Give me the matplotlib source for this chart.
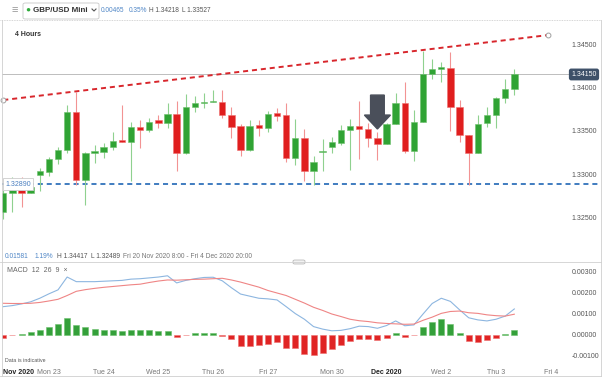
import numpy as np
import matplotlib
matplotlib.use('Agg')
import matplotlib.pyplot as plt
import matplotlib.transforms as mtransforms
from matplotlib.lines import Line2D
from matplotlib.patches import FancyBboxPatch

plt.rcParams['font.family'] = ['Liberation Sans', 'DejaVu Sans']

# ===================================================
# Data: GBP/USD 4h candles, Fri 20 Nov 8:00 -> Thu 3 Dec
# ===================================================
opens = [1.32568, 1.32787, 1.32821, 1.32787, 1.32994, 1.33028, 1.33178, 1.33281, 1.33718, 1.32936,
         1.33247, 1.33258, 1.33316, 1.33396, 1.33373, 1.33546, 1.33511, 1.33626, 1.33592, 1.33695,
         1.33247, 1.33776, 1.33822, 1.33833, 1.33833, 1.33684, 1.33557, 1.33281, 1.33569, 1.33534,
         1.33707, 1.33684, 1.33189, 1.33419, 1.33040, 1.33258, 1.33316, 1.33362, 1.33511, 1.33557,
         1.33523, 1.33419, 1.33350, 1.33580, 1.33822, 1.33270, 1.33603, 1.34155, 1.34213, 1.34224,
         1.33776, 1.33454, 1.33247, 1.33592, 1.33684, 1.33879, 1.33983]
highs = [1.32821, 1.32971, 1.32971, 1.32867, 1.33074, 1.33201, 1.33316, 1.33799, 1.33948, 1.33258,
         1.33339, 1.33362, 1.33488, 1.33799, 1.33603, 1.33626, 1.33649, 1.33684, 1.33822, 1.33845,
         1.33925, 1.33902, 1.33937, 1.33971, 1.33971, 1.33776, 1.33580, 1.33626, 1.33626, 1.33730,
         1.33764, 1.33822, 1.33638, 1.33523, 1.33212, 1.33408, 1.33430, 1.33569, 1.33638, 1.33845,
         1.33592, 1.33488, 1.33592, 1.33937, 1.34063, 1.33741, 1.34417, 1.34328, 1.34293, 1.34408,
         1.33856, 1.33454, 1.33684, 1.33776, 1.33891, 1.34098, 1.34213]
lows = [1.32489, 1.32568, 1.32626, 1.32787, 1.32810, 1.32982, 1.33120, 1.33247, 1.32879, 1.32649,
        1.33132, 1.33189, 1.33281, 1.33373, 1.32925, 1.33304, 1.33488, 1.33534, 1.33534, 1.33040,
        1.33235, 1.33718, 1.33764, 1.33833, 1.33649, 1.33419, 1.33212, 1.33270, 1.33442, 1.33488,
        1.33615, 1.33143, 1.33108, 1.32925, 1.32879, 1.33040, 1.33247, 1.33339, 1.33051, 1.33178,
        1.33316, 1.33166, 1.33350, 1.33580, 1.33247, 1.33155, 1.33603, 1.34098, 1.34063, 1.33500,
        1.33373, 1.32879, 1.33247, 1.33546, 1.33534, 1.33822, 1.33914]
closes = [1.32787, 1.32821, 1.32787, 1.32856, 1.33040, 1.33178, 1.33281, 1.33718, 1.32936, 1.33247,
          1.33270, 1.33316, 1.33385, 1.33373, 1.33546, 1.33511, 1.33603, 1.33592, 1.33695, 1.33247,
          1.33776, 1.33822, 1.33833, 1.33845, 1.33684, 1.33546, 1.33281, 1.33557, 1.33534, 1.33695,
          1.33672, 1.33189, 1.33419, 1.33040, 1.33143, 1.33270, 1.33373, 1.33511, 1.33557, 1.33523,
          1.33419, 1.33350, 1.33580, 1.33822, 1.33270, 1.33603, 1.34155, 1.34213, 1.34236, 1.33776,
          1.33454, 1.33247, 1.33580, 1.33684, 1.33879, 1.33983, 1.34150]

# MACD(12, 26, 9)
macd_line = [0.00135, 0.00140, 0.00148, 0.00158, 0.00175, 0.00196, 0.00215, 0.00276, 0.00254, 0.00254,
             0.00254, 0.00256, 0.00258, 0.00260, 0.00266, 0.00268, 0.00272, 0.00276, 0.00282, 0.00248,
             0.00260, 0.00268, 0.00274, 0.00275, 0.00258, 0.00225, 0.00195, 0.00185, 0.00175, 0.00172,
             0.00167, 0.00135, 0.00102, 0.00075, 0.00040, 0.00028, 0.00020, 0.00022, 0.00030, 0.00042,
             0.00040, 0.00032, 0.00045, 0.00067, 0.00044, 0.00048, 0.00100, 0.00150, 0.00175, 0.00160,
             0.00120, 0.00082, 0.00072, 0.00067, 0.00075, 0.00090, 0.00124]
signal_line = [0.00151, 0.00150, 0.00150, 0.00151, 0.00155, 0.00162, 0.00170, 0.00188, 0.00208, 0.00216,
               0.00222, 0.00227, 0.00231, 0.00235, 0.00239, 0.00242, 0.00250, 0.00257, 0.00262, 0.00261,
               0.00263, 0.00265, 0.00266, 0.00268, 0.00270, 0.00262, 0.00252, 0.00240, 0.00228, 0.00212,
               0.00200, 0.00188, 0.00170, 0.00152, 0.00132, 0.00117, 0.00100, 0.00088, 0.00075, 0.00068,
               0.00064, 0.00058, 0.00055, 0.00053, 0.00051, 0.00052, 0.00070, 0.00085, 0.00103, 0.00112,
               0.00114, 0.00106, 0.00103, 0.00096, 0.00092, 0.00090, 0.00099]
histogram = [-0.00013, -0.00002, 0.00005, 0.00013, 0.00022, 0.00038, 0.00051, 0.00083, 0.00046, 0.00038,
             0.00029, 0.00025, 0.00022, 0.00019, 0.00024, 0.00022, 0.00022, 0.00019, 0.00021, -0.00010,
             -0.00002, 0.00010, 0.00010, 0.00008, -0.00004, -0.00019, -0.00051, -0.00051, -0.00048, -0.00041,
             -0.00035, -0.00063, -0.00063, -0.00092, -0.00097, -0.00084, -0.00068, -0.00049, -0.00030, -0.00021,
             -0.00021, -0.00024, -0.00013, 0.00011, -0.00010, -0.00002, 0.00038, 0.00062, 0.00075, 0.00051,
             0.00011, -0.00029, -0.00033, -0.00025, -0.00013, 0.00006, 0.00024]

# trend line (start / end) and support level
trend_x = [0, 59.7]
trend_y = [1.33856, 1.34603]
support = 1.32890

price_ticks = [1.325, 1.330, 1.335, 1.340, 1.345]
macd_ticks = [-0.001, 0.0, 0.001, 0.002, 0.003]
xtick_pos = [1.7, 5, 11, 17, 23, 29, 36, 42, 48, 54, 60]
xtick_lbl = ['Nov 2020', 'Mon 23', 'Tue 24', 'Wed 25', 'Thu 26', 'Fri 27',
             'Mon 30', 'Dec 2020', 'Wed 2', 'Thu 3', 'Fri 4']

# ===================================================
# Figure layout (pixel based)
# ===================================================
W, H = 602, 377
fig = plt.figure(figsize=(W / 100, H / 100), dpi=100)
fig.patch.set_facecolor('white')


def px_rect(x0, y0, x1, y1):
    return [x0 / W, 1 - y1 / H, (x1 - x0) / W, (y1 - y0) / H]


def fx(x):
    return x / W


def fy(y):
    return 1 - y / H


XLIM = (-0.14, 65.5)
GREEN, GREEN_W = '#30a334', '#8fd18f'
RED, RED_W = '#e01e1e', '#f29393'

o = np.array(opens)
h = np.array(highs)
l = np.array(lows)
c = np.array(closes)
idx = np.arange(len(c))
up = c >= o

# ===================================================
# Price panel
# ===================================================
ax = fig.add_axes(px_rect(2, 21, 601, 250))
ax.set_xlim(*XLIM)
ax.set_ylim(1.32131, 1.34765)
for s in ax.spines.values():
    s.set_visible(False)
ax.set_xticks([])
ax.yaxis.tick_right()
ax.set_yticks(price_ticks)
ax.set_yticklabels(['%.5f' % v for v in price_ticks])
ax.tick_params(axis='y', length=0, pad=-21, labelsize=5, labelcolor='#555555')

ax.vlines(idx, l, h, colors=np.where(up, GREEN_W, RED_W), lw=0.8, zorder=2)
ax.bar(idx, np.maximum(np.abs(c - o), 0.00003), bottom=np.minimum(o, c), width=0.7,
       color=np.where(up, GREEN, RED), edgecolor=np.where(up, '#6cc06c', '#ee7070'),
       linewidth=0.4, zorder=3)

# current price line + label
ax.axhline(c[-1], xmin=0, xmax=(568 - 2) / 599, color='#bdbdbd', lw=0.7, zorder=1)
blend = mtransforms.blended_transform_factory(ax.transAxes, ax.transData)
ax.text((584 - 2) / 599, c[-1], '%.5f' % c[-1], transform=blend, ha='center', va='center',
        fontsize=5, color='white',
        bbox=dict(boxstyle='round,pad=0.25', fc='#3d5068', ec='#3d5068'))

# support line + label
ax.axhline(support, color='#3f7cc0', lw=1.4, dashes=(2.6, 2), zorder=1)
ax.text((18 - 2) / 599, support, '%.5f' % support, transform=blend, ha='center', va='center',
        fontsize=5, color='#4a7fc0',
        bbox=dict(boxstyle='square,pad=0.35', fc='white', ec='#cccccc', lw=0.6), zorder=5)

# trend line
ax.plot(trend_x, trend_y, color='#d8262c', lw=1.4, dashes=(2.6, 2), zorder=4)
ax.plot(trend_x, trend_y, 'o', mfc='white', mec='#a0a0a0', ms=3.5, mew=0.7,
        clip_on=False, zorder=5)

# arrow over the candle
tip = h[41] + 0.00035
ax.arrow(41, tip + 0.0039, 0, -0.0039, width=1.5, head_width=2.85, head_length=0.0016,
         length_includes_head=True, color='#4a4f5a', zorder=6)

# ===================================================
# MACD panel
# ===================================================
ax2 = fig.add_axes(px_rect(2, 262, 601, 362))
ax2.set_xlim(*XLIM)
ax2.set_ylim(-0.001286, 0.003476)
for s in ax2.spines.values():
    s.set_visible(False)
ax2.yaxis.tick_right()
ax2.set_yticks(macd_ticks)
ax2.set_yticklabels(['%.5f' % v for v in macd_ticks])
ax2.tick_params(axis='y', length=0, pad=-21, labelsize=5, labelcolor='#555555')
ax2.set_xticks(xtick_pos)
ax2.set_xticklabels(xtick_lbl)
ax2.tick_params(axis='x', length=0, pad=5, labelsize=5, labelcolor='#777777')
for t in ax2.get_xticklabels():
    if '2020' in t.get_text():
        t.set_color('#222222')
        t.set_fontweight('bold')

hv = np.array(histogram)
ax2.bar(idx, hv, width=0.66, color=np.where(hv >= 0, '#34a03a', '#e02424'),
        edgecolor=np.where(hv >= 0, '#6cc06c', '#ee7070'), linewidth=0.4)
ax2.plot(idx, macd_line, color='#8db6e0', lw=0.8)
ax2.plot(idx, signal_line, color='#ef8585', lw=0.8)

# ===================================================
# Header, info row and frame
# ===================================================
fig.text(fx(12), fy(10), '\u2261', fontsize=8, color='#9a9a9a', va='center')
fig.patches.append(FancyBboxPatch((fx(23), fy(19)), fx(76), 16 / H, boxstyle='round,pad=0,rounding_size=0.004',
                                  transform=fig.transFigure, fc='white', ec='#c8c8c8', lw=0.6))
fig.text(fx(25), fy(10), '\u25cf', fontsize=6, color='#2eaa3a', va='center')
fig.text(fx(33), fy(10), 'GBP/USD Mini', fontsize=5.8, fontweight='bold', color='#333333', va='center')
fig.add_artist(Line2D([fx(92), fx(94), fx(96)], [fy(9), fy(11), fy(9)], color='#555555', lw=0.8))
fig.text(fx(101), fy(10), '0.00465', fontsize=4.7, color='#4f86c6', va='center')
fig.text(fx(129), fy(10), '0.35%', fontsize=4.7, color='#4f86c6', va='center')
fig.text(fx(149), fy(10), 'H 1.34218', fontsize=4.7, color='#555555', va='center')
fig.text(fx(182), fy(10), 'L 1.33527', fontsize=4.7, color='#555555', va='center')
fig.text(fx(15), fy(34), '4 Hours', fontsize=5, color='#333333', va='center', fontweight='bold')

fig.text(fx(5), fy(256), '0.01581', fontsize=4.8, color='#4f86c6', va='center')
fig.text(fx(35), fy(256), '1.19%', fontsize=4.8, color='#4f86c6', va='center')
fig.text(fx(57), fy(256), 'H 1.34417', fontsize=4.8, color='#555555', va='center')
fig.text(fx(91), fy(256), 'L 1.32489', fontsize=4.8, color='#555555', va='center')
fig.text(fx(123), fy(256), 'Fri 20 Nov 2020 8:00 - Fri 4 Dec 2020 20:00', fontsize=4.8,
         color='#777777', va='center')

fig.text(fx(7), fy(270), 'MACD  12  26  9  \u00d7', fontsize=5, color='#666666', va='center')
fig.text(fx(5), fy(361), 'Data is indicative', fontsize=3.8, color='#555555', va='center')

fig.add_artist(Line2D([0, 1], [fy(19.5), fy(19.5)], color='#c8c8c8', lw=0.6, ls=(0, (1, 1))))
fig.add_artist(Line2D([0, 1], [fy(262), fy(262)], color='#d0d0d0', lw=0.6))
fig.patches.append(FancyBboxPatch((fx(293), fy(264)), fx(12), 4 / H, boxstyle='round,pad=0,rounding_size=0.003',
                                  transform=fig.transFigure, fc='#f2f2f2', ec='#b0b0b0', lw=0.5))
fig.add_artist(Line2D([fx(1.5), fx(1.5)], [0, fy(20)], color='#cfcfcf', lw=0.6))
fig.add_artist(Line2D([fx(600.5), fx(600.5)], [0, fy(20)], color='#cfcfcf', lw=0.6))
fig.add_artist(Line2D([0, 1], [fy(376), fy(376)], color='#cfcfcf', lw=0.6))

fig.savefig('out.png', dpi=100, facecolor='white')
